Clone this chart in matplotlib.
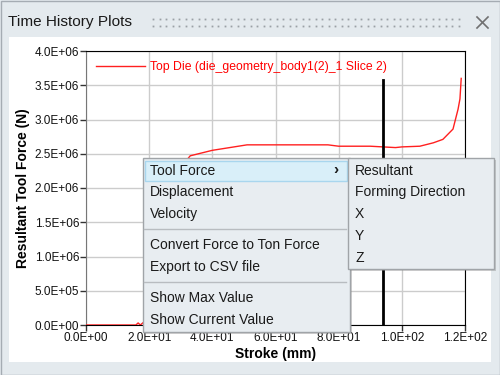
import numpy as np
import matplotlib
matplotlib.use("Agg")
import matplotlib.pyplot as plt
from matplotlib.patches import Rectangle
from matplotlib.lines import Line2D
from matplotlib.ticker import FuncFormatter, MultipleLocator

plt.rcParams['font.family'] = ['Liberation Sans', 'DejaVu Sans']

# stroke (mm) vs resultant force (N)
stroke = [0, 10, 15.8, 16.5, 17.2, 18.5, 22, 26, 30, 33, 40, 51, 60, 70, 76.6, 80, 90, 98, 100, 105.7, 110, 113, 116.2, 117.8,
          118.4, 118.8]
force = [0, 0, 0, 0.03e6, 0, 0.05e6, 0.6e6, 1.6e6, 2.3e6, 2.47e6, 2.55e6, 2.63e6, 2.63e6, 2.63e6, 2.63e6, 2.61e6, 2.61e6,
         2.59e6, 2.6e6, 2.61e6, 2.66e6, 2.71e6, 2.86e6, 3.15e6, 3.3e6, 3.6e6]
cursor_x = 94.0
legend_label = 'Top Die (die_geometry_body1(2)_1 Slice 2)'
menu_items = ['Tool Force', 'Displacement', 'Velocity', None, 'Convert Force to Ton Force',
              'Export to CSV file', None, 'Show Max Value', 'Show Current Value']
sub_items = ['Resultant', 'Forming Direction', 'X', 'Y', 'Z']

W, H = 500, 375
fig = plt.figure(figsize=(5, 3.75), dpi=100)
fig.patch.set_facecolor('#e4eaee')


def px(x, y):
    return x / W, 1 - y / H


def rect(x0, y0, x1, y1, fc, ec='none', lw=1, z=1, alpha=1):
    r = Rectangle(px(x0, y1), (x1 - x0) / W, (y1 - y0) / H, transform=fig.transFigure,
                  facecolor=fc, edgecolor=ec, linewidth=lw, zorder=z, alpha=alpha)
    fig.add_artist(r)


def txt(x, y, s, **kw):
    fig.text(*px(x, y), s, va='center', **kw)


# window frame
rect(0.5, 0.5, 499.5, 374.5, 'none', ec='#a5acb3', z=-2)
rect(9, 37, 491, 362, 'white', z=-1)
txt(8, 22, 'Time History Plots', fontsize=11.1, color='#1a1a1a')
for yy in (19, 26):
    xs = np.arange(153, 463, 6.5)
    fig.add_artist(Line2D(xs / W, np.full(len(xs), 1 - yy / H), transform=fig.transFigure,
                          ls='none', marker='s', ms=1.3, color='#9aa0a6', mec='none'))
fig.add_artist(Line2D([477 / W, 488 / W], [1 - 17 / H, 1 - 28 / H], transform=fig.transFigure, color='#707070', lw=1.2))
fig.add_artist(Line2D([477 / W, 488 / W], [1 - 28 / H, 1 - 17 / H], transform=fig.transFigure, color='#707070', lw=1.2))

# plot
ax = fig.add_axes([86 / W, 50 / H, 379 / W, 274 / H])
ax.plot(stroke, force, color='#ff2020', lw=1, label=legend_label, zorder=3)
ax.axvline(cursor_x, ymin=0, ymax=(3.57e6) / 4e6, color='black', lw=2, zorder=4)
ax.set_xlim(0, 120)
ax.set_ylim(0, 4e6)
ax.xaxis.set_major_locator(MultipleLocator(20))
ax.yaxis.set_major_locator(MultipleLocator(5e5))
fmt = FuncFormatter(lambda v, p: f'{v:.1E}')
ax.xaxis.set_major_formatter(fmt)
ax.yaxis.set_major_formatter(fmt)
ax.grid(True, color='#cccccc', lw=1)
ax.set_axisbelow(True)
ax.tick_params(labelsize=8.5, length=4, width=1, color='#333333', pad=1, labelcolor='#111111')
for s in ['top', 'right', 'bottom']:
    ax.spines[s].set_color('black')
ax.spines['left'].set_color('#777777')
ax.set_xlabel('Stroke (mm)', fontsize=10, fontweight='bold', labelpad=2)
ax.set_ylabel('Resultant Tool Force (N)', fontsize=10, fontweight='bold', labelpad=3)
ax.legend(loc='upper left', frameon=False, fontsize=8.8, labelcolor='#ff0000',
          handlelength=4, handletextpad=0.4, borderaxespad=0.4, bbox_to_anchor=(0.0, 1.0))

# context menu
menu_bg = '#e8edf1'
rect(145, 160, 352, 334, '#808080', z=5, alpha=0.35)
rect(143, 158, 350, 332, menu_bg, ec='#a0a4a8', z=5)
rect(145, 161, 347, 181, '#d9eff9', ec='#a9d6ee', z=5)
row_y = [171, 192, 214, 229, 245, 267, 282, 298, 320]
for lab, yy in zip(menu_items, row_y):
    if lab is None:
        fig.add_artist(Line2D([144 / W, 346 / W], [1 - yy / H] * 2, transform=fig.transFigure,
                              color='#b8bcc0', lw=1, zorder=6))
    else:
        txt(150, yy, lab, fontsize=10, color='#1a1a1a', zorder=7)
txt(333, 170, '›', fontsize=11, color='#1a1a1a', zorder=7, fontweight='bold')

rect(350, 160, 496, 271, '#808080', z=8, alpha=0.35)
rect(348, 158, 494, 269, menu_bg, ec='#a0a4a8', z=8)
for lab, yy in zip(sub_items, [171, 192, 214, 236, 258]):
    txt(355, yy, lab, fontsize=10, color='#1a1a1a', zorder=9)

fig.savefig('out.png', dpi=100, facecolor=fig.get_facecolor())
